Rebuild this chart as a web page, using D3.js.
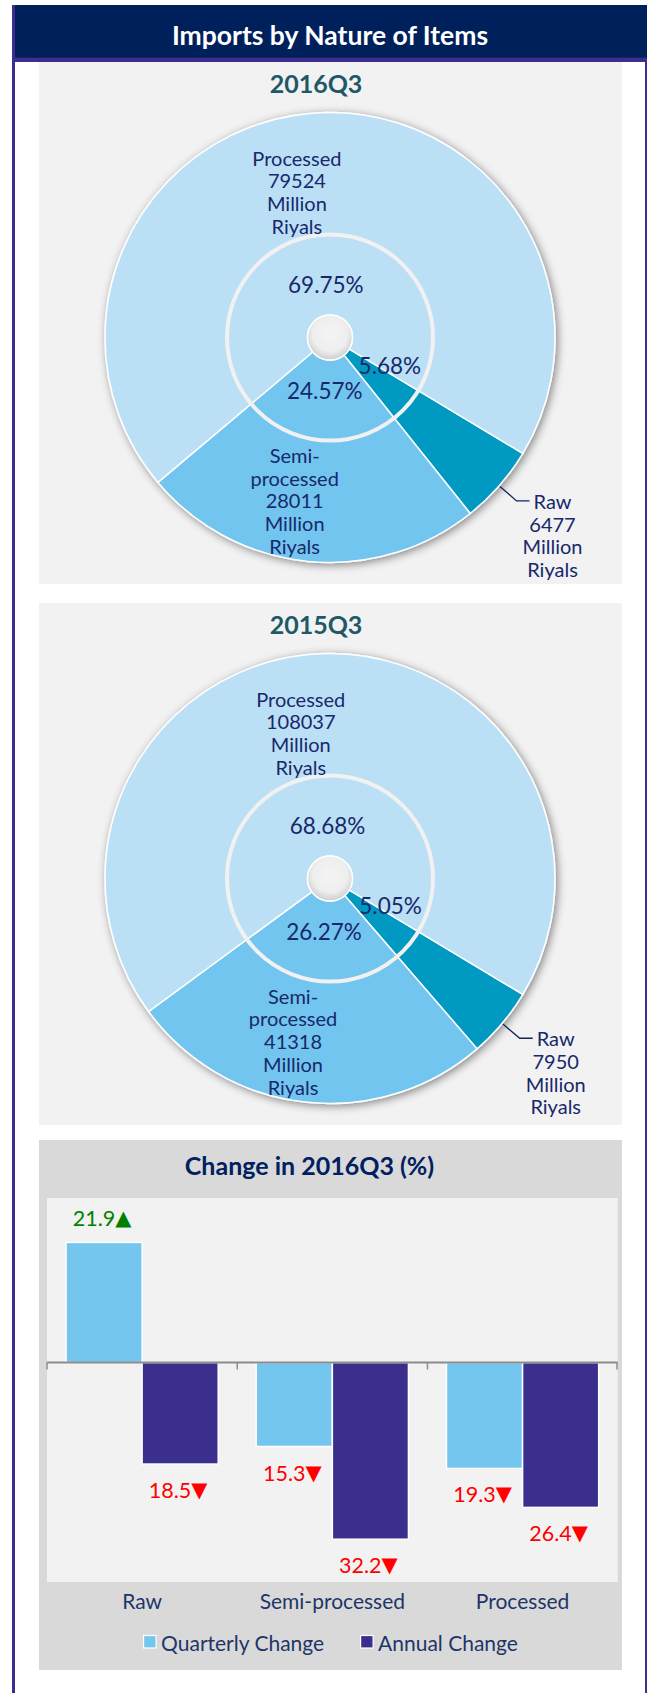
<!DOCTYPE html>
<html>
<head>
<meta charset="utf-8">
<script src="https://cdn.jsdelivr.net/npm/d3@7"></script>
<style>
  html, body { margin: 0; padding: 0; background: #fff; }
  svg { display: block; font-family: Lato, "Noto Sans", sans-serif; }
</style>
</head>
<body>
<svg id="chart" width="647" height="1693"></svg>
<script>
// data
const categories = ["Raw", "Semi-processed", "Processed"];
const nameLines = [["Raw"], ["Semi-", "processed"], ["Processed"]];
const values2016 = [6477, 28011, 79524];
const shares2016 = ["5.68%", "24.57%", "69.75%"];
const values2015 = [7950, 41318, 108037];
const shares2015 = ["5.05%", "26.27%", "68.68%"];
const seriesNames = ["Quarterly Change", "Annual Change"];
const quarterlyChange = [21.9, -15.3, -19.3];
const annualChange = [-18.5, -32.2, -26.4];

const pieColors = ["#0099c2", "#72c5ef", "#bbdff5"];
const barColors = ["#74c6ef", "#3b2f8d"];
const navy = "#17296b";

const svg = d3.select("#chart");
const defs = svg.append("defs");

defs.append("filter").attr("id", "pieShadow")
    .attr("x", "-20%").attr("y", "-20%").attr("width", "140%").attr("height", "140%")
  .append("feDropShadow")
    .attr("dx", 2).attr("dy", 2).attr("stdDeviation", 4)
    .attr("flood-color", "#000").attr("flood-opacity", 0.45);

const holeGrad = defs.append("radialGradient").attr("id", "holeGrad")
    .attr("cx", "50%").attr("cy", "42%").attr("r", "60%");
holeGrad.append("stop").attr("offset", "0%").attr("stop-color", "#f4f4f4");
holeGrad.append("stop").attr("offset", "65%").attr("stop-color", "#eeeeee");
holeGrad.append("stop").attr("offset", "100%").attr("stop-color", "#c9c9c9");

// frame + header
svg.append("rect").attr("x", 12).attr("y", 5).attr("width", 3).attr("height", 1688).attr("fill", "#3c2d8e");
svg.append("rect").attr("x", 645).attr("y", 5).attr("width", 2).attr("height", 1688).attr("fill", "#3c2d8e");
svg.append("rect").attr("x", 15).attr("y", 5).attr("width", 632).attr("height", 53).attr("fill", "#00205b");
svg.append("rect").attr("x", 12).attr("y", 57.7).attr("width", 635).attr("height", 4.3).attr("fill", "#3c2d8e");
svg.append("text")
    .attr("x", 330).attr("y", 44.5)
    .attr("text-anchor", "middle")
    .attr("fill", "#fff").attr("font-size", 26.5).attr("font-weight", "bold")
    .text("Imports by Nature of Items");

// ---------- pies ----------
const outerR = 225, ringR = 103, holeR = 22.5;
const startA = 121 * Math.PI / 180;
const pie = d3.pie().sort(null).startAngle(startA).endAngle(startA + 2 * Math.PI);
const arc = d3.arc().innerRadius(holeR).outerRadius(outerR);
const pctArc = d3.arc().innerRadius(53).outerRadius(53);
const nameArc = d3.arc().innerRadius(115).outerRadius(115);
const edgeArc = d3.arc().innerRadius(outerR + 1).outerRadius(outerR + 1);
const elbowArc = d3.arc().innerRadius(outerR + 23).outerRadius(outerR + 23);
const lineH = 22.7;

function drawPie(top, title, values, shares) {
  const panel = svg.append("g");
  panel.append("rect").attr("x", 39).attr("y", top).attr("width", 583).attr("height", 522).attr("fill", "#f2f2f2");
  panel.append("text")
      .attr("x", 316).attr("y", top + 30.5)
      .attr("text-anchor", "middle")
      .attr("fill", "#215868").attr("font-size", 25).attr("font-weight", "bold")
      .text(title);

  const g = panel.append("g").attr("transform", `translate(330,${top + 275.5})`);
  const arcs = pie(values);
  const total = d3.sum(values);

  g.append("g").attr("filter", "url(#pieShadow)")
    .selectAll("path")
    .data(arcs)
    .join("path")
      .attr("d", arc)
      .attr("fill", (d, i) => pieColors[i])
      .attr("stroke", "#fff")
      .attr("stroke-width", 1.5);

  g.append("circle").attr("r", ringR).attr("fill", "none").attr("stroke", "#f1f1f1").attr("stroke-width", 4);
  g.append("circle").attr("r", holeR).attr("fill", "url(#holeGrad)").attr("stroke", "#fff").attr("stroke-width", 1.5);

  // percentage labels on the inner ring
  g.append("g").selectAll("text")
    .data(arcs)
    .join("text")
      .attr("transform", d => {
        const [x, y] = pctArc.centroid(d);
        const small = d.value / total < 0.1;
        return `translate(${small ? x + 20 : x},${small ? y - 7 : y})`;
      })
      .attr("text-anchor", "middle")
      .attr("dominant-baseline", "central")
      .attr("fill", navy).attr("font-size", 22.5)
      .text((d, i) => shares[i]);

  // name / value labels
  arcs.forEach((d, i) => {
    const lines = [...nameLines[i], String(values[i]), "Million", "Riyals"];
    const t = g.append("text")
        .attr("text-anchor", "middle")
        .attr("dominant-baseline", "central")
        .attr("fill", navy).attr("font-size", 20);
    if (d.value / total < 0.1) {
      const [sx, sy] = edgeArc.centroid(d);
      const [ex, ey] = elbowArc.centroid(d);
      g.append("path")
          .attr("d", d3.line()([[sx, sy], [ex, ey], [ex + 13, ey]]))
          .attr("fill", "none").attr("stroke", "#14235c").attr("stroke-width", 1.3);
      lines.forEach((s, k) => t.append("tspan").attr("x", ex + 36).attr("y", ey + k * lineH).text(s));
    } else {
      const [ax, ay] = nameArc.centroid(d);
      const up = ay < 0;
      const n = lines.length;
      lines.forEach((s, k) => t.append("tspan")
          .attr("x", ax - 24)
          .attr("y", up ? ay + 3 - (n - 1 - k) * lineH : ay + 3 + k * lineH)
          .text(s));
    }
  });
}

drawPie(62, "2016Q3", values2016, shares2016);
drawPie(603, "2015Q3", values2015, shares2015);

// ---------- bar chart ----------
const bp = svg.append("g");
bp.append("rect").attr("x", 39).attr("y", 1140).attr("width", 583).attr("height", 530).attr("fill", "#d9d9d9");
bp.append("text")
    .attr("x", 309.5).attr("y", 1175)
    .attr("text-anchor", "middle")
    .attr("fill", "#002060").attr("font-size", 25).attr("font-weight", "bold")
    .text("Change in 2016Q3 (%)");

const plotL = 47, plotR = 617.7, plotT = 1198, plotB = 1582;
bp.append("rect").attr("x", plotL).attr("y", plotT).attr("width", plotR - plotL).attr("height", plotB - plotT).attr("fill", "#f2f2f2");

const x0 = d3.scaleBand().domain(categories).range([plotL, plotR]).paddingInner(0.2).paddingOuter(0.1);
const x1 = d3.scaleBand().domain(seriesNames).range([0, x0.bandwidth()]);
const y = d3.scaleLinear().domain([-40, 30]).range([plotB, plotT]);

const barData = categories.map((c, i) => ({
  cat: c,
  vals: [
    { s: seriesNames[0], v: quarterlyChange[i] },
    { s: seriesNames[1], v: annualChange[i] }
  ]
}));

const groups = bp.append("g").selectAll("g")
  .data(barData)
  .join("g")
    .attr("transform", d => `translate(${x0(d.cat)},0)`);

groups.selectAll("rect")
  .data(d => d.vals)
  .join("rect")
    .attr("x", d => x1(d.s))
    .attr("y", d => y(Math.max(0, d.v)))
    .attr("width", x1.bandwidth())
    .attr("height", d => Math.abs(y(d.v) - y(0)))
    .attr("fill", (d, i) => barColors[i])
    .attr("stroke", "#fff").attr("stroke-width", 1.5);

const valueLabels = groups.selectAll("text")
  .data(d => d.vals)
  .join("text")
    .attr("x", d => x1(d.s) + x1.bandwidth() / 2 - 2)
    .attr("y", d => d.v >= 0 ? y(d.v) - 24 : y(d.v) + 26)
    .attr("text-anchor", "middle")
    .attr("dominant-baseline", "central")
    .attr("font-size", 21.5)
    .attr("fill", d => d.v >= 0 ? "#008000" : "#ff0000");
valueLabels.append("tspan").text(d => Math.abs(d.v).toFixed(1));
valueLabels.append("tspan")
    .attr("font-family", "DejaVu Sans")
    .attr("font-size", 21)
    .text(d => d.v >= 0 ? "▲" : "▼");

// zero axis with category boundary ticks
const axis = bp.append("g").attr("transform", `translate(0,${y(0)})`)
  .call(d3.axisBottom(x0).tickSize(0).tickFormat(""));
axis.select(".domain").remove();
axis.append("line").attr("x1", plotL).attr("x2", plotR).attr("stroke", "#8c8c8c").attr("stroke-width", 2);
const bounds = d3.range(categories.length + 1).map(k => plotL + k * x0.step() - (k === categories.length ? 0.7 : 0));
axis.selectAll(".bound")
  .data(bounds)
  .join("line")
    .attr("class", "bound")
    .attr("x1", d => d).attr("x2", d => d)
    .attr("y1", 0).attr("y2", 7)
    .attr("stroke", "#8c8c8c").attr("stroke-width", 1.5);

bp.append("g").selectAll("text")
  .data(categories)
  .join("text")
    .attr("x", d => x0(d) + x0.bandwidth() / 2)
    .attr("y", 1600)
    .attr("text-anchor", "middle")
    .attr("dominant-baseline", "central")
    .attr("font-size", 21)
    .attr("fill", "#1f3568")
    .text(d => d);

// legend
const legendX = [143.6, 360.6];
const legend = bp.append("g").selectAll("g")
  .data(seriesNames)
  .join("g")
    .attr("transform", (d, i) => `translate(${legendX[i]},1642)`);
legend.append("rect")
    .attr("x", 0).attr("y", -6.5).attr("width", 12.5).attr("height", 12.5)
    .attr("fill", (d, i) => barColors[i])
    .attr("stroke", "#fff").attr("stroke-width", 1.2);
legend.append("text")
    .attr("x", 17.5).attr("y", 0)
    .attr("dominant-baseline", "central")
    .attr("font-size", 21)
    .attr("fill", "#1f3568")
    .text(d => d);
</script>
</body>
</html>
